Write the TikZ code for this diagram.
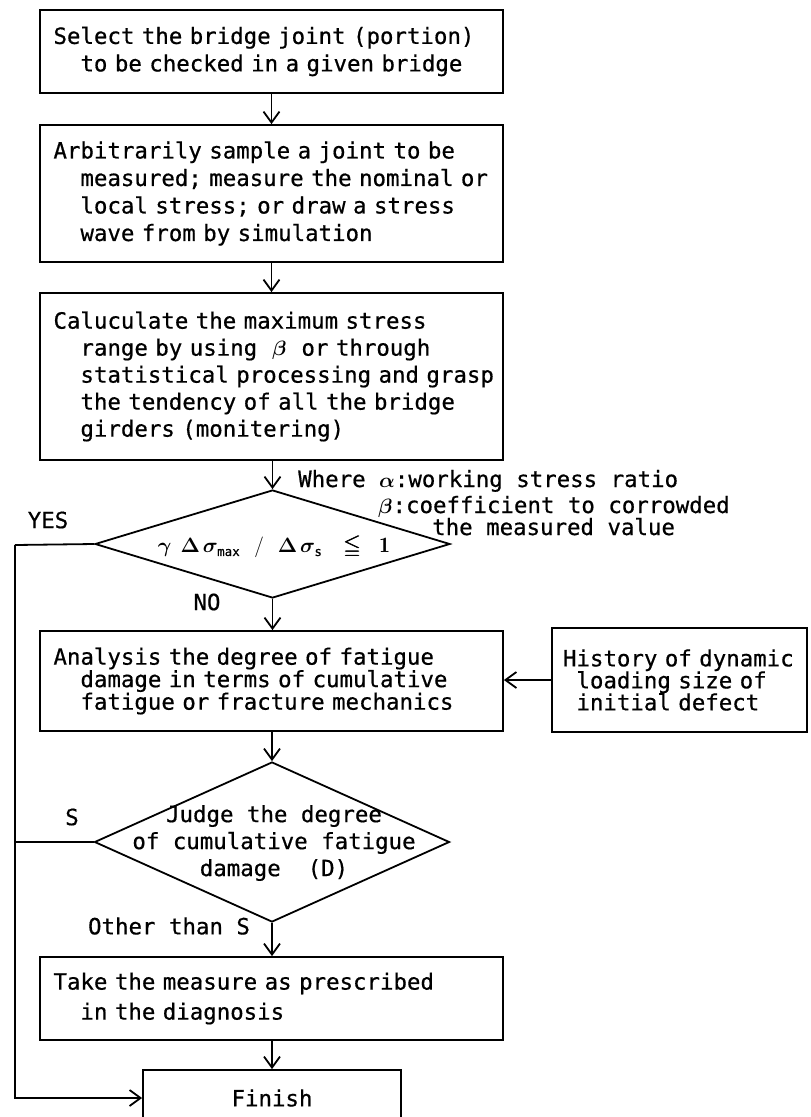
\documentclass[tikz,border=0pt]{standalone}
\usepackage{amssymb}
\usepackage{bm}
\usepackage{fontspec}
\setmonofont{DejaVu Sans Mono}[FakeBold=0.6]
\usetikzlibrary{arrows.meta,shapes.geometric}
\newcommand{\lnA}{\hspace*{9pt}}
\newcommand{\lnB}{\hspace*{9pt}\hphantom{xx}}
\newcommand{\subtx}[1]{\mbox{\ttfamily\fontsize{12.5}{12.5}\selectfont #1}}
\begin{document}
\begin{tikzpicture}[x=1pt,y=-1pt,
  txt/.style={font=\ttfamily\fontsize{22.4}{27.5}\selectfont, inner sep=0pt},
  box/.style={draw, line width=1.8pt, font=\ttfamily\fontsize{22.4}{27.5}\selectfont,
    inner xsep=4.5pt, inner ysep=0pt, text width=454pt, align=left, minimum width=463pt},
  dia/.style={draw, line width=1.8pt, shape=diamond, inner sep=0pt, minimum width=355pt},
  arr/.style={line width=1.8pt, -{Straight Barb[length=11pt,width=16pt]}},
  ln/.style={line width=1.8pt}]
\useasboundingbox (0,0) rectangle (811,1117);

\node[box, minimum height=83pt] (b1) at (271.5,51.5)
  {\lnA Select the bridge joint (portion)\\\lnB to be checked in a given bridge};
\node[box, minimum height=137pt] (b2) at (271.5,193.5)
  {\lnA Arbitrarily sample a joint to be\\\lnB measured; measure the nominal or\\\lnB local stress; or draw a stress\\\lnB wave from by simulation};
\node[box, minimum height=167pt, font=\ttfamily\fontsize{22.4}{27}\selectfont] (b3) at (271.5,376.5)
  {\lnA Caluculate the maximum stress\\\lnB range by using \ $\bm\beta$ \ or through\\\lnB statistical processing and grasp\\\lnB the tendency of all the bridge\\\lnB girders (monitering)};

\node[dia, minimum height=108pt] (d1) at (272.5,544) {};
\node[txt, font=\fontsize{22}{25}\selectfont] (f1) at (274,547)
  {$\bm\gamma\hspace{9pt}\bm\Delta\hspace{3pt}\bm\sigma_{\subtx{max}}\hspace{14pt}/\hspace{14pt}\bm\Delta\hspace{3pt}\bm\sigma_{\subtx{s}}\hspace{15pt}\bm\leqq\hspace{12pt}\mathbf{1}$};

\node[txt, anchor=base west] (w1) at (298,487) {Where $\bm\alpha$:working stress ratio};
\node[txt, anchor=base west] (w2) at (378,513) {$\bm\beta$:coefficient to corrowded};
\node[txt, anchor=base west] (w3) at (432,535) {the measured value};

\node[txt] (yes) at (48,520) {YES};
\node[txt] (no) at (207,602) {NO};

\node[box, minimum height=100pt, font=\ttfamily\fontsize{22.4}{22.5}\selectfont] (b4) at (271.5,681)
  {\lnA Analysis the degree of fatigue\\\lnB damage in terms of cumulative\\\lnB fatigue or fracture mechanics};

\node[draw, line width=1.8pt, font=\ttfamily\fontsize{22.4}{22}\selectfont, inner xsep=5pt, inner ysep=0pt,
  text width=245pt, align=left, minimum width=255pt, minimum height=104pt] (hist) at (679.5,680)
  {\hspace*{6pt}History of dynamic\\\hspace*{6pt}\hphantom{x}loading size of\\\hspace*{6pt}\hphantom{x}initial defect};

\node[dia, minimum height=160pt] (d2) at (272,842) {};
\node[txt, font=\ttfamily\fontsize{22.4}{27}\selectfont, align=center] (d2t) at (274,843)
  {Judge the degree\\of cumulative fatigue\\damage\ \ (D)};

\node[txt] (s) at (72,817) {S};
\node[txt] (oth) at (169,926) {Other than S};

\node[box, minimum height=83pt, font=\ttfamily\fontsize{22.4}{30}\selectfont] (b5) at (271.5,998.5)
  {\lnA Take the measure as prescribed\\\lnB in the diagnosis};

\node[draw, line width=1.8pt, font=\ttfamily\fontsize{22.4}{25}\selectfont, minimum width=258pt,
  minimum height=56pt, inner sep=0pt] (fin) at (272,1098) {Finish};

\coordinate (lft) at (15,545);

\draw[arr] (b1.south) -- (b2.north);
\draw[arr] (b2.south) -- (b3.north);
\draw[arr] (b3.south -| d1.north) -- (d1.north);
\draw[arr] (d1.south) -- (d1.south |- b4.north);
\draw[arr] (b4.south -| d2.north) -- (d2.north);
\draw[arr] (d2.south) -- (d2.south |- b5.north);
\draw[arr] (b5.south -| fin.north) -- (fin.north);
\draw[arr] (hist.west) -- (hist.west -| b4.east);
\draw[ln] (d1.west) -- (lft);
\draw[arr] (lft) |- (fin.west);
\draw[ln] (d2.west) -- (d2.west -| lft);
\end{tikzpicture}
\end{document}
